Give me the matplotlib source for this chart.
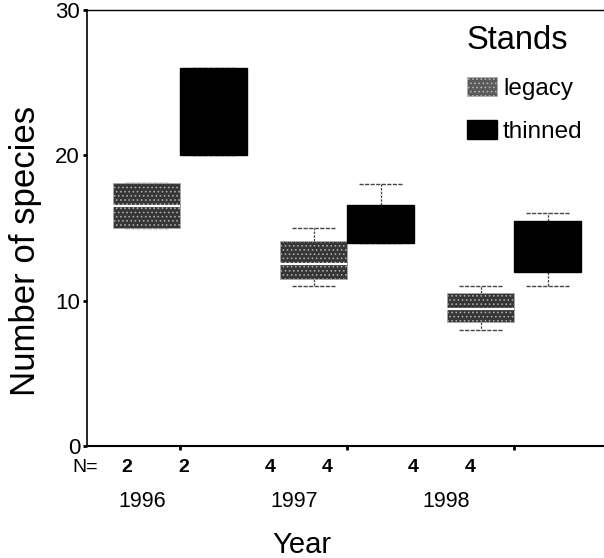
import matplotlib
matplotlib.use('Agg')
import matplotlib.pyplot as plt
from matplotlib.patches import Patch

plt.rcParams['font.family'] = ['Liberation Sans', 'DejaVu Sans']
plt.rcParams['hatch.linewidth'] = 0.7

# Datos (número de especies por año y tipo de rodal)
years = ['1996', '1997', '1998']
legacy_lo = [15.0, 11.0, 8.0]
legacy_q1 = [15.0, 11.5, 8.5]
legacy_med = [16.5, 12.5, 9.4]
legacy_q3 = [18.1, 14.1, 10.5]
legacy_hi = [18.1, 15.0, 11.0]
thinned_lo = [20.0, 14.0, 11.0]
thinned_q1 = [20.0, 14.0, 12.0]
thinned_med = [23.0, 15.0, 13.5]
thinned_q3 = [26.0, 16.6, 15.5]
thinned_hi = [26.0, 18.0, 16.0]
n_legacy = [2, 4, 4]
n_thinned = [2, 4, 4]

legacy_color = '#363636'
legacy_speckle = '#a8a8a8'
thinned_color = 'black'

W, H = 604, 558
fig = plt.figure(figsize=(W / 100, H / 100), dpi=100)
ax = fig.add_axes([87 / W, 112 / H, 516 / W, 436 / H])

def stats(lo, q1, med, q3, hi):
    return [dict(whislo=a, q1=b, med=c, q3=d, whishi=e, fliers=[])
            for a, b, c, d, e in zip(lo, q1, med, q3, hi)]

pos = [1, 2, 3]
pos_leg = [p - 0.2 for p in pos]
pos_thin = [p + 0.2 for p in pos]

common = dict(widths=0.4, capwidths=0.26, patch_artist=True, showfliers=False,
              whiskerprops=dict(color='#444444', lw=0.9, ls=(0, (2, 1)), zorder=1),
              capprops=dict(color='#444444', lw=1, ls=(0, (3, 1)), zorder=1))
ax.bxp(stats(legacy_lo, legacy_q1, legacy_med, legacy_q3, legacy_hi),
       positions=pos_leg, medianprops=dict(color='white', lw=1.6, zorder=3),
       boxprops=dict(facecolor=legacy_color, edgecolor=legacy_speckle,
                     hatch='....', lw=0.6, zorder=2), **common)
ax.bxp(stats(thinned_lo, thinned_q1, thinned_med, thinned_q3, thinned_hi),
       positions=pos_thin, medianprops=dict(color='black', lw=1, zorder=3),
       boxprops=dict(facecolor=thinned_color, edgecolor='black', zorder=2), **common)

ax.set_xlim(0.445, 3.53)
ax.set_ylim(0, 30)
ax.set_yticks([0, 10, 20, 30])
ax.tick_params(axis='y', labelsize=16, length=3, width=2, pad=2)
ax.set_xticks([1, 2, 3])
ax.set_xticklabels([])
ax.tick_params(axis='x', length=3, width=2)
ax.spines['right'].set_visible(False)
ax.spines['top'].set_linestyle((0, (8, 1)))
ax.spines['top'].set_linewidth(1)
ax.spines['left'].set_linewidth(1.2)
ax.spines['bottom'].set_linewidth(1.5)

ax.set_ylabel('Number of species', fontsize=25)
ax.yaxis.set_label_coords(-0.088, 0.447)

# Etiquetas N= y años
fig.text(85 / W, 1 - 468 / H, 'N=', ha='center', va='center', fontsize=14)
for p, nl, nt in zip(pos, n_legacy, n_thinned):
    for x, n in [(p - 0.2, nl), (p + 0.2, nt)]:
        ax.text(x * 0.855, -1.5, str(n), ha='center', va='center',
                fontsize=14, fontweight='bold')
for p, y in zip(pos, years):
    ax.text(0.91 * p - 0.137, -3.8, y, ha='center', va='center', fontsize=15.5)
fig.text(302 / W, 1 - 545 / H, 'Year', ha='center', va='center', fontsize=21)

handles = [Patch(facecolor='#5a5a5a', edgecolor='#b0b0b0', hatch='....', lw=0.6),
           Patch(facecolor=thinned_color, edgecolor='black')]
leg = ax.legend(handles, ['legacy', 'thinned'], title='Stands', loc='upper left',
                bbox_to_anchor=(467 / W, 1 - 25 / H), bbox_transform=fig.transFigure,
                frameon=False, fontsize=17.5, title_fontsize=23.5, alignment='left',
                handlelength=1.23, handleheight=0.82, labelspacing=0.85,
                handletextpad=0.25, borderaxespad=0, borderpad=0)

fig.savefig('out.png', dpi=100)
